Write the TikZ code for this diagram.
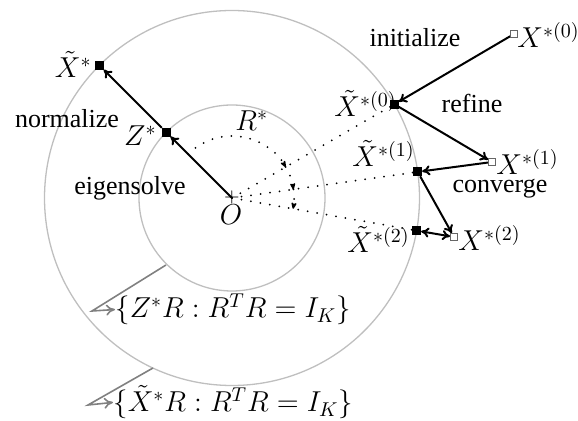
\documentclass[tikz,border=0pt]{standalone}
\usepackage{fontspec}
\setmainfont{Liberation Serif}
\usetikzlibrary{arrows.meta,calc}
\begin{document}
\begin{tikzpicture}[x=0.5pt,y=-0.5pt,
  every node/.style={font=\fontsize{13}{15}\selectfont},
  ring/.style={draw=black!25,line width=0.65pt},
  solidsq/.style={draw=black,fill=black,rectangle,minimum size=4pt,inner sep=0pt},
  opensq/.style={draw=black!60,fill=white,rectangle,minimum size=3.5pt,inner sep=0pt,line width=0.4pt},
  step arrow/.style={line width=1pt,-{To[length=4pt,width=5pt]}},
  dotline/.style={line width=1pt,dash pattern=on 0pt off 4.8pt,line cap=round},
  rotarrow/.style={line width=1pt,dash pattern=on 0pt off 4.8pt,line cap=round,-{Stealth[length=4.5pt,width=3.5pt,round]}},
  pointer/.style={draw=black!50,line width=0.8pt,-{To[length=4.5pt,width=5.5pt]}},
  lbl/.style={inner sep=0pt},
  mlbl/.style={inner sep=0pt,font=\fontsize{14.5}{16}\selectfont}]
\useasboundingbox (0,0) rectangle (578,421);
% rings
\coordinate (O) at (232,198);
\draw[ring] (O) circle[radius=46.5pt];
\draw[ring] (O) circle[radius=93.75pt];
% points
\node[solidsq] (Z) at (166.2,132.2) {};
\node[solidsq] (Xt) at (99.4,65.4) {};
\node[solidsq] (Xt0) at (394.4,104.25) {};
\node[solidsq] (Xt1) at (417.7,171.9) {};
\node[solidsq] (Xt2) at (416.7,230.6) {};
% dotted rays
\draw[dotline] (O) -- (Xt0);
\draw[dotline] (O) -- (Xt1);
\draw[dotline] (O) -- (Xt2);
% rotation arcs
\draw[rotarrow] ([shift={(135:31pt)}]O) arc[start angle=135,end angle=30,radius=31pt];
\draw[rotarrow] ([shift={(30:31pt)}]O) arc[start angle=30,end angle=8,radius=31pt];
\draw[rotarrow] ([shift={(8:31pt)}]O) arc[start angle=8,end angle=-10,radius=31pt];
% O marker
\node[lbl] (Oplus) at (O) {\fontsize{10}{10}\selectfont$+$};
\node[mlbl,anchor=base] (Olbl) at (231,225) {$O$};
\node[mlbl,anchor=base west] (Rlbl) at (235,131) {$R^*$};
% main arrows
\draw[step arrow] (O) -- (Z);
\draw[step arrow] (Z) -- (Xt);
\node[opensq] (X0) at (514,34) {};
\node[opensq] (X1) at (492,162) {};
\node[opensq] (X2) at (454,237) {};
\draw[step arrow] (X0) -- (Xt0);
\draw[step arrow] (Xt0) -- (X1);
\draw[step arrow] (X1) -- (Xt1);
\draw[step arrow] (Xt1) -- (X2);
\draw[line width=1pt,{To[length=4pt,width=5pt]}-{To[length=4pt,width=5pt]}] (Xt2) -- (X2);
\node[opensq] at (514,34) {};
\node[opensq] at (492,162) {};
\node[opensq] at (454,237) {};
% point labels
\node[mlbl,anchor=base east] (Zlbl) at (157,146) {$Z^*$};
\node[mlbl,anchor=base east] (Xtlbl) at (92,78) {$\tilde X^*$};
\node[mlbl,anchor=base east] (Xt0lbl) at (397,117) {$\tilde X^{*(0)}$};
\node[mlbl,anchor=base east] (Xt1lbl) at (415,167) {$\tilde X^{*(1)}$};
\node[mlbl,anchor=base east] (Xt2lbl) at (410,253) {$\tilde X^{*(2)}$};
\node[mlbl,anchor=base west] (X0lbl) at (517,48) {$X^{*(0)}$};
\node[mlbl,anchor=base west] (X1lbl) at (496,175) {$X^{*(1)}$};
\node[mlbl,anchor=base west] (X2lbl) at (458,251) {$X^{*(2)}$};
\node[solidsq] at (394.4,104.25) {};
% step names
\node[lbl,anchor=base] (normalize) at (67,128) {normalize};
\node[lbl,anchor=base] (eigensolve) at (130,195) {eigensolve};
\node[lbl,anchor=base] (initialize) at (415,47) {initialize};
\node[lbl,anchor=base] (refine) at (472,113) {refine};
\node[lbl,anchor=base] (converge) at (500,193) {converge};
% set labels
\node[mlbl,anchor=base west] (setZ) at (115,318) {$\{Z^*R : R^TR=I_K\}$};
\node[mlbl,anchor=base west] (setX) at (113,412) {$\{\tilde X^*R : R^TR=I_K\}$};
\coordinate (pz) at (166,265);
\coordinate (px) at (153,368);
\draw[pointer] (pz) -- (92,311) -- (setZ.west);
\draw[pointer] (px) -- (88,405) -- (setX.west);
\end{tikzpicture}
\end{document}
